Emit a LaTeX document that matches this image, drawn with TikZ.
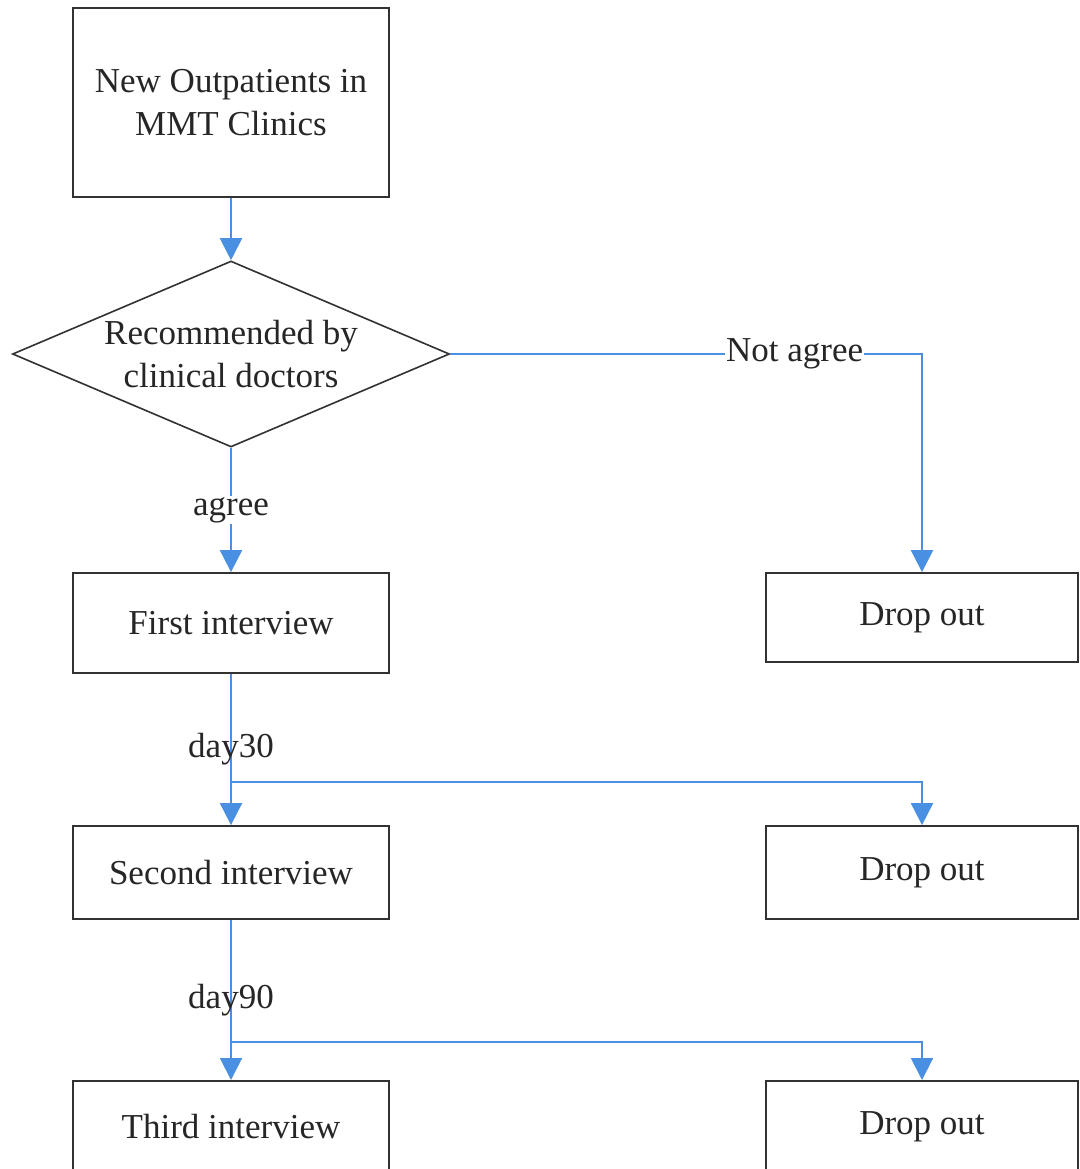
\documentclass[tikz,border=0pt]{standalone}
\usepackage{fontspec}
\setmainfont{Liberation Serif}
\usetikzlibrary{arrows.meta,shapes.geometric}
\definecolor{flowblue}{RGB}{74,144,226}
\definecolor{boxgray}{RGB}{50,50,50}
\begin{document}
\begin{tikzpicture}[x=1pt,y=-1pt,
  font=\fontsize{35}{43}\selectfont,
  box/.style={draw=boxgray, line width=1.8pt, rectangle, inner sep=0pt, align=center, text=black!85},
  conn/.style={draw=flowblue, line width=2pt, -{Triangle[width=22pt,length=22pt]}},
  lbl/.style={inner sep=1pt, text=black!85}]
\useasboundingbox (0,0) rectangle (1079,1169);
\fill[white] (0,0) rectangle (1079,1169);
% nodes
\node[box, minimum width=316, minimum height=189] (top) at (231,102.5) {New Outpatients in\\MMT Clinics};
\node[draw=boxgray, line width=1.6pt, diamond, aspect=2.35, inner sep=0pt,
      minimum width=437, minimum height=186,
      label={[align=center, text=black!85]center:Recommended by\\clinical doctors}] (dia) at (231,354) {};
\node[box, minimum width=316, minimum height=100] (first) at (231,623) {First interview};
\node[box, minimum width=312, minimum height=89] (drop1) at (922,617.5) {Drop out};
\node[box, minimum width=316, minimum height=93] (second) at (231,872.5) {Second interview};
\node[box, minimum width=312, minimum height=93] (drop2) at (922,872.5) {Drop out};
\node[box, minimum width=316, minimum height=140, anchor=north] (third) at (231,1080) {};
\node[lbl] (thirdtxt) at (231,1127) {Third interview};
\node[box, minimum width=312, minimum height=140, anchor=north] (drop3) at (922,1080) {};
\node[lbl] (drop3txt) at (922,1127) {Drop out};
% branch points
\coordinate (b1) at (231,782);
\coordinate (b2) at (231,1042);
% connectors
\draw[conn] (top.south) -- (dia.north);
\draw[conn] (dia.south) -- node[lbl, fill=white, pos=0.5]{agree} (first.north);
\draw[conn] (dia.east) -- node[lbl, fill=white, pos=0.73]{Not agree} (dia.east -| drop1.north) -- (drop1.north);
\draw[conn] (first.south) -- node[lbl, pos=0.5]{day30} (second.north);
\draw[conn] (b1) -| (drop2.north);
\draw[conn] (second.south) -- node[lbl, pos=0.5]{day90} (third.north);
\draw[conn] (b2) -| (drop3.north);
\end{tikzpicture}
\end{document}
